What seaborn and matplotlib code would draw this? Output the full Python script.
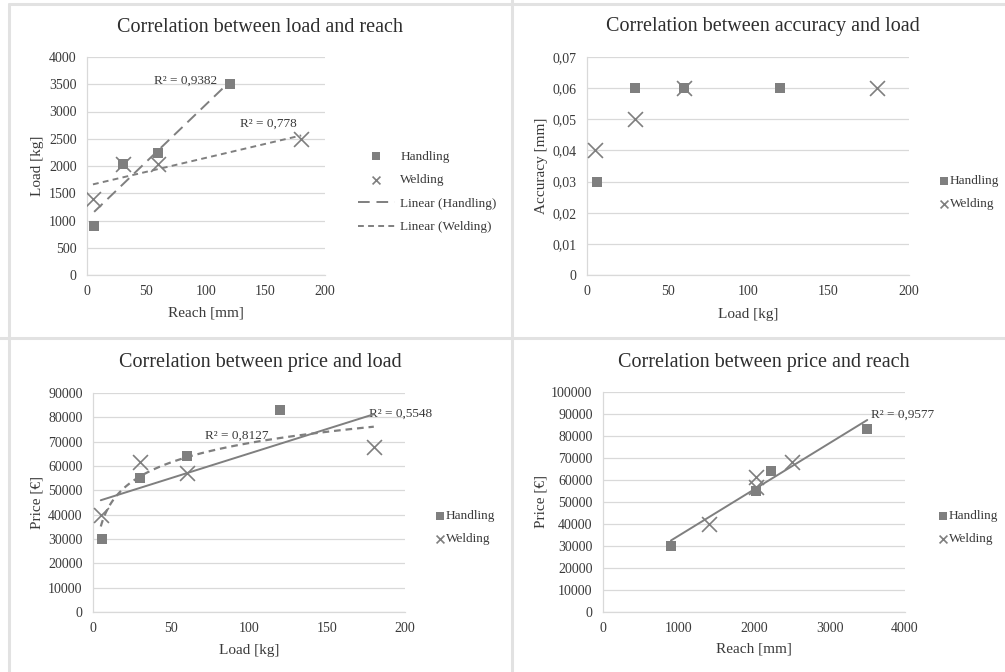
import numpy as np
import pandas as pd
import matplotlib
matplotlib.use('Agg')
import matplotlib.pyplot as plt
from matplotlib.lines import Line2D
from matplotlib.ticker import FuncFormatter, MultipleLocator
import seaborn as sns

# robot data
handling_load = [6, 30, 60, 120]
handling_reach = [900, 2030, 2230, 3500]
handling_accuracy = [0.03, 0.06, 0.06, 0.06]
handling_price = [30000, 55000, 64000, 83000]

welding_load = [5, 30, 60, 180]
welding_reach = [1400, 2030, 2030, 2500]
welding_accuracy = [0.04, 0.05, 0.06, 0.06]
welding_price = [40000, 61500, 57000, 68000]

handling = pd.DataFrame({'load': handling_load, 'reach': handling_reach,
                         'accuracy': handling_accuracy, 'price': handling_price})
welding = pd.DataFrame({'load': welding_load, 'reach': welding_reach,
                        'accuracy': welding_accuracy, 'price': welding_price})
both = pd.concat([handling, welding], ignore_index=True)

sns.set_style('white')
plt.rcParams['font.family'] = ['Liberation Serif', 'DejaVu Serif']

GRAY = '#7f7f7f'
GRID = '#d9d9d9'
TXT = '#3a3a3a'
W, H = 1005, 672

fig = plt.figure(figsize=(W / 100, H / 100), dpi=100)


def px_axes(left, top, right, bottom):
    return fig.add_axes([left / W, 1 - bottom / H, (right - left) / W, (bottom - top) / H])


def style_axes(ax, xmax, ymax, xstep, ystep, xlabel, ylabel, ylab_x, xlab_y, yfmt=None):
    ax.set_xlim(0, xmax)
    ax.set_ylim(0, ymax)
    ax.xaxis.set_major_locator(MultipleLocator(xstep))
    ax.yaxis.set_major_locator(MultipleLocator(ystep))
    if yfmt is not None:
        ax.yaxis.set_major_formatter(FuncFormatter(yfmt))
    ax.grid(axis='y', color=GRID, linewidth=0.9)
    ax.set_axisbelow(True)
    for s in ['top', 'right']:
        ax.spines[s].set_visible(False)
    for s in ['left', 'bottom']:
        ax.spines[s].set_color(GRID)
        ax.spines[s].set_linewidth(0.9)
    ax.tick_params(length=0, labelsize=10, labelcolor=TXT)
    ax.tick_params(axis='y', pad=7.5)
    ax.tick_params(axis='x', pad=7)
    ax.set_xlabel(xlabel, fontsize=11, color=TXT)
    ax.set_ylabel(ylabel, fontsize=11, color=TXT)
    ax.yaxis.set_label_coords(ylab_x, 0.5)
    ax.xaxis.set_label_coords(0.5, xlab_y)


def scatter_pair(ax, xcol, ycol):
    sns.scatterplot(data=handling, x=xcol, y=ycol, marker='s', s=42, color=GRAY,
                    linewidth=0, label='Handling', ax=ax, zorder=3)
    sns.scatterplot(data=welding, x=xcol, y=ycol, marker='x', s=115, color=GRAY,
                    linewidth=1.2, label='Welding', ax=ax, zorder=3)


def linear_fit(df, xcol, ycol):
    k, b = np.polyfit(df[xcol], df[ycol], 1)
    xs = np.array([df[xcol].min(), df[xcol].max()])
    return xs, k * xs + b


def log_fit(df, xcol, ycol):
    k, b = np.polyfit(np.log(df[xcol]), df[ycol], 1)
    xs = np.geomspace(df[xcol].min(), df[xcol].max(), 80)
    return xs, k * np.log(xs) + b


def small_legend(ax, handles, labels, left, cy, hl=1.0, pad=0.25, spacing=0.8):
    leg = ax.legend(handles, labels, loc='center left', bbox_to_anchor=(left / W, 1 - cy / H),
                    bbox_transform=fig.transFigure, frameon=False, fontsize=9.5,
                    handlelength=hl, handletextpad=pad, labelspacing=spacing,
                    borderpad=0, borderaxespad=0)
    for t in leg.get_texts():
        t.set_color(TXT)
    for h in leg.legend_handles:
        if hasattr(h, 'set_sizes'):
            h.set_sizes([32])
    return leg


def title(text, cx, cy):
    fig.text(cx / W, 1 - cy / H, text, ha='center', va='center', fontsize=14.5, color='#2e2e2e')


# ---- chart 1: load vs reach
ax1 = px_axes(87, 57, 325, 275)
scatter_pair(ax1, 'load', 'reach')
hx, hy = linear_fit(handling, 'load', 'reach')
wx, wy = linear_fit(welding, 'load', 'reach')
ax1.plot(hx, hy, color=GRAY, linewidth=1.4, dashes=(6, 3.5), label='Linear (Handling)', zorder=4)
ax1.plot(wx, wy, color=GRAY, linewidth=1.4, dashes=(3, 2.2), label='Linear (Welding)', zorder=4)
style_axes(ax1, 200, 4000, 50, 500, 'Reach [mm]', 'Load [kg]', -0.18, -0.145)
ax1.text(83, 3560, 'R² = 0,9382', ha='center', va='center', fontsize=9.5, color=TXT)
ax1.text(152, 2770, 'R² = 0,778', ha='center', va='center', fontsize=9.5, color=TXT)
h, l = ax1.get_legend_handles_labels()
small_legend(ax1, h, l, 358, 192, hl=2.8, pad=0.4, spacing=0.86)
title('Correlation between load and reach', 260, 28)

# ---- chart 2: accuracy vs load
ax2 = px_axes(587, 57, 909, 275)
scatter_pair(ax2, 'load', 'accuracy')
style_axes(ax2, 200, 0.07, 50, 0.01, 'Load [kg]', 'Accuracy [mm]', -0.121, -0.152,
           yfmt=lambda v, p: '0' if abs(v) < 1e-9 else f'{v:.2f}'.replace('.', ','))
h, l = ax2.get_legend_handles_labels()
small_legend(ax2, h, l, 940, 192.5, hl=0.6, pad=0.15)
title('Correlation between accuracy and load', 763, 27)

# ---- chart 3: price vs load
ax3 = px_axes(93, 393, 405, 612)
scatter_pair(ax3, 'load', 'price')
lx, ly = linear_fit(both, 'load', 'price')
gx, gy = log_fit(both, 'load', 'price')
ax3.plot(lx, ly, color=GRAY, linewidth=1.4, zorder=4)
ax3.plot(gx, gy, color=GRAY, linewidth=1.6, dashes=(3, 2.2), zorder=4)
style_axes(ax3, 200, 90000, 50, 10000, 'Load [kg]', 'Price [€]', -0.16, -0.146)
ax3.text(197, 81370, 'R² = 0,5548', ha='center', va='center', fontsize=9.5, color=TXT)
ax3.text(92, 72330, 'R² = 0,8127', ha='center', va='center', fontsize=9.5, color=TXT)
h, l = ax3.get_legend_handles_labels()
small_legend(ax3, h, l, 436, 527.5, hl=0.6, pad=0.15)
title('Correlation between price and load', 260, 363)

# ---- chart 4: price vs reach
ax4 = px_axes(603, 392, 905, 612)
scatter_pair(ax4, 'reach', 'price')
rx, ry = linear_fit(both, 'reach', 'price')
ax4.plot(rx, ry, color=GRAY, linewidth=1.4, zorder=4)
style_axes(ax4, 4000, 100000, 1000, 10000, 'Reach [mm]', 'Price [€]', -0.185, -0.14)
ax4.text(3974, 89545, 'R² = 0,9577', ha='center', va='center', fontsize=9.5, color=TXT)
h, l = ax4.get_legend_handles_labels()
small_legend(ax4, h, l, 939, 527.5, hl=0.6, pad=0.15)
title('Correlation between price and reach', 764, 363)

# panel borders of the pasted chart images
border = '#e2e2e2'
for xs, ys in [([8.5, 8.5], [3.5, H]), ([8.5, W], [3.5, 3.5]),
               ([512, 512], [0, H]), ([0, W], [338, 338])]:
    fig.add_artist(Line2D([x / W for x in xs], [1 - y / H for y in ys],
                          transform=fig.transFigure, color=border, linewidth=2.2))

fig.savefig('out.png', dpi=100)
